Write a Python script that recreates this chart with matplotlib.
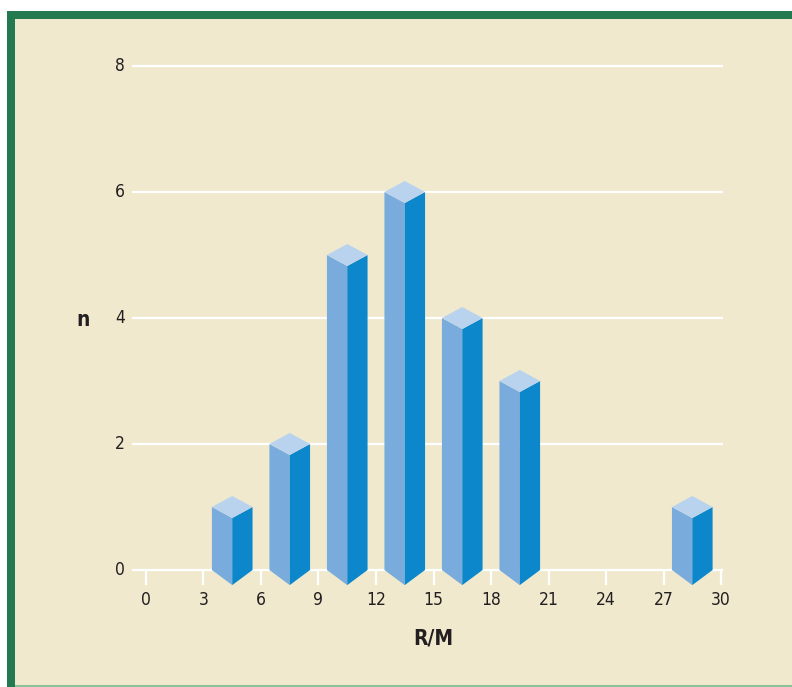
import matplotlib
matplotlib.use("Agg")
import matplotlib.pyplot as plt
from matplotlib.patches import Polygon, Rectangle

plt.rcParams['font.family'] = ['DejaVu Sans']
plt.rcParams['font.stretch'] = 'condensed'

# data
bin_centers = [4.5, 7.5, 10.5, 13.5, 16.5, 19.5, 28.5]
counts = [1, 2, 5, 6, 4, 3, 1]
x_ticks = [0, 3, 6, 9, 12, 15, 18, 21, 24, 27, 30]
y_ticks = [0, 2, 4, 6, 8]

bg = '#f0e9ce'
green = '#237a50'
c_left = '#79acdc'
c_right = '#0c87cb'
c_top = '#b9d3ee'
txt = '#231f20'

W, H = 792, 687
fig = plt.figure(figsize=(W / 100, H / 100), dpi=100)
fig.patch.set_facecolor('white')

# frame: beige panel, green border top and left, thin line at bottom
fig.patches.append(Rectangle((7 / W, 0), 1 - 7 / W, 1 - 11 / H, transform=fig.transFigure,
                             facecolor=bg, edgecolor='none', zorder=-3))
fig.patches.append(Rectangle((7 / W, 1 - 19 / H), 1 - 7 / W, 8 / H, transform=fig.transFigure,
                             facecolor=green, edgecolor='none', zorder=-2))
fig.patches.append(Rectangle((7 / W, 0), 8 / W, 1 - 11 / H, transform=fig.transFigure,
                             facecolor=green, edgecolor='none', zorder=-2))
fig.patches.append(Rectangle((15 / W, 0), 1, 2 / H, transform=fig.transFigure,
                             facecolor='#8cc29a', edgecolor='none', zorder=-2))

ax = fig.add_axes([0.1601, 0.1153, 0.7745, 0.8345])
ax.set_zorder(5)
ax.set_xlim(-1, 31)
ax.set_ylim(-0.6, 8.5)
ax.axis('off')

# grid lines (white) incl. the baseline
for y in y_ticks:
    ax.plot([-0.73, 30.1], [y, y], color='white', lw=1.6, zorder=1, solid_capstyle='butt')
    ax.text(-1.1, y, str(y), ha='right', va='center', fontsize=12.5, color=txt)

# x ticks below the baseline
for x in x_ticks:
    ax.plot([x, x], [0, -0.24], color='white', lw=1.6, zorder=1, solid_capstyle='butt')
    ax.text(x, -0.48, str(x), ha='center', va='center', fontsize=12.5, color=txt)

# pseudo-3D bars
w = 1.06
dt = 0.175
db = 0.24
for c, v in zip(bin_centers, counts):
    left = [(c - w, 0), (c - w, v), (c, v - dt), (c, -db)]
    right = [(c, -db), (c, v - dt), (c + w, v), (c + w, 0)]
    top = [(c - w, v), (c, v + dt), (c + w, v), (c, v - dt)]
    ax.add_patch(Polygon(left, closed=True, facecolor=c_left, edgecolor='none', zorder=3))
    ax.add_patch(Polygon(right, closed=True, facecolor=c_right, edgecolor='none', zorder=3))
    ax.add_patch(Polygon(top, closed=True, facecolor=c_top, edgecolor='none', zorder=3))

ax.text(15, -1.095, 'R/M', ha='center', va='center', fontsize=15, fontweight='bold', color=txt)
ax.text(-3.29, 3.97, 'n', ha='center', va='center', fontsize=15, fontweight='bold', color=txt)

fig.savefig('out.png', dpi=100, facecolor=fig.get_facecolor())
